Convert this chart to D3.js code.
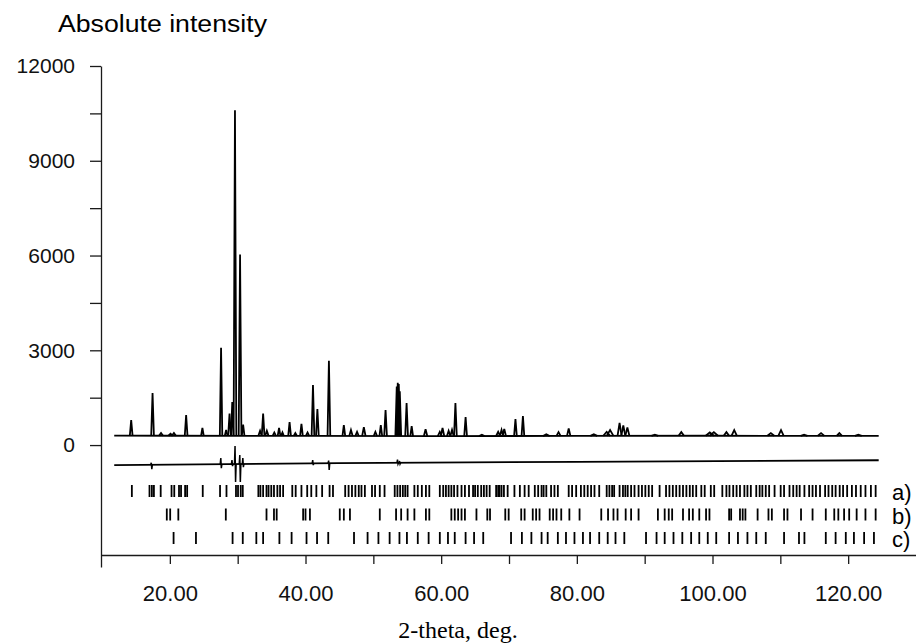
<!DOCTYPE html>
<html>
<head>
<meta charset="utf-8">
<script src="https://cdn.jsdelivr.net/npm/d3@7"></script>
<style>
  body { margin: 0; background: #fff; }
  svg { display: block; }
  .axis path, .axis line { stroke: #1a1a1a; stroke-width: 1.3; }
  .axis text { font-family: "Liberation Sans", Arial, sans-serif; fill: #111; }
</style>
</head>
<body>
<svg id="chart" width="916" height="643"></svg>
<script>
// observed pattern, background level [2theta, counts]
const obsBaseline = [[11.8, 300], [20, 295], [40, 290], [60, 285], [80, 290], [100, 295], [124.5, 290]]

// observed peaks [2theta, counts at top, half width in deg]
const obsPeaks = [
  [14.3, 790, 0.2], [17.45, 1650, 0.2], [18.7, 380, 0.3], [20.1, 360, 0.3], [20.6, 380, 0.3],
  [22.4, 950, 0.2], [24.8, 540, 0.2], [27.55, 3080, 0.18], [28.3, 480, 0.2], [28.8, 1000, 0.2],
  [29.2, 1365, 0.18], [29.6, 10600, 0.2], [30.35, 6030, 0.2], [30.8, 650, 0.2],
  [33.3, 450, 0.25], [33.75, 1000, 0.2], [34.3, 450, 0.25], [35.4, 400, 0.25], [36.1, 540, 0.2],
  [36.6, 400, 0.2], [37.65, 730, 0.2], [38.5, 380, 0.25], [39.4, 670, 0.2], [40.3, 400, 0.25],
  [41.1, 1900, 0.2], [41.75, 1140, 0.2], [43.45, 2670, 0.2], [45.65, 635, 0.2], [46.7, 475, 0.25],
  [47.6, 420, 0.25], [48.6, 570, 0.25], [50.3, 420, 0.25], [51.1, 635, 0.2], [51.8, 1110, 0.2],
  [53.45, 1850, 0.2], [53.6, 1970, 0.2], [53.75, 1930, 0.2], [53.9, 1700, 0.2], [54.9, 1330, 0.2],
  [55.65, 600, 0.2], [57.7, 500, 0.25], [59.8, 420, 0.3], [60.2, 540, 0.25], [61.1, 450, 0.25],
  [61.6, 480, 0.25], [62.1, 1330, 0.2], [63.6, 890, 0.2], [66.0, 330, 0.4], [68.4, 420, 0.3],
  [68.9, 480, 0.25], [69.3, 510, 0.25], [70.95, 825, 0.2], [72.05, 920, 0.2], [75.5, 340, 0.5],
  [77.3, 410, 0.3], [78.8, 530, 0.25], [82.5, 340, 0.5], [84.4, 420, 0.5], [84.9, 475, 0.5],
  [86.3, 700, 0.3], [86.85, 620, 0.3], [87.45, 560, 0.3], [91.5, 330, 0.5], [95.4, 410, 0.4],
  [99.6, 400, 0.6], [100.2, 410, 0.6], [102.05, 410, 0.4], [103.2, 475, 0.4], [108.6, 380, 0.5],
  [110.1, 475, 0.4], [113.5, 330, 0.5], [116.0, 380, 0.5], [118.7, 380, 0.4], [121.5, 330, 0.5]
]

// difference curve, level [2theta, counts]
const diffBaseline = [[11.8, -635], [45, -570], [80, -530], [124.5, -480]]
// difference spikes [2theta, high, low]
const diffSpikes = [
  [17.3, -560, -760], [27.55, -410, -730], [29.2, -475, -665], [29.65, -30, -1170],
  [30.35, -315, -1170], [30.8, -410, -700], [41.1, -475, -635], [43.45, -490, -790],
  [53.6, -460, -600], [53.9, -505, -600]
]

// reflection positions (2theta) for the three phases
const reflA = [
  14.4, 17.0, 17.35, 17.65, 18.65, 20.25, 20.65, 21.35, 21.65, 22.25, 22.55, 24.85, 27.4, 28.35,
  29.75, 30.05, 30.45, 30.75, 33.05, 33.35, 33.75, 34.25, 34.55, 34.95, 35.35, 35.85, 36.25, 36.7,
  38.05, 38.55, 39.4, 40.25, 40.85, 41.6, 42.45, 43.55, 44.05, 45.85, 46.35, 46.85, 47.35, 47.85,
  48.25, 48.75, 49.8, 50.25, 50.95, 51.65, 53.15, 53.55, 53.95, 54.35, 54.7, 55.05, 56.05, 56.55,
  57.15, 57.75, 58.25, 59.8, 60.3, 60.7, 61.1, 61.5, 61.9, 62.4, 63.0, 63.5, 64.1, 64.7, 65.0,
  65.4, 65.9, 66.3, 66.7, 67.15, 68.1, 68.4, 68.6, 68.9, 69.25, 69.8, 70.8, 71.6, 72.3, 72.9,
  73.8, 74.3, 74.8, 75.1, 75.5, 76.2, 76.7, 77.2, 78.8, 79.3, 79.9, 80.6, 81.1, 81.6, 82.1, 82.6,
  83.3, 84.4, 84.8, 85.2, 85.5, 86.3, 86.8, 87.15, 87.5, 88.0, 88.5, 89.1, 89.6, 90.1, 90.6, 91.1,
  92.2, 93.15, 93.65, 94.15, 94.65, 95.15, 95.65, 96.15, 96.65, 97.1, 97.6, 98.35, 98.85, 99.75,
  100.25, 101.45, 102.05, 102.5, 103.05, 103.55, 104.05, 104.7, 105.15, 105.65, 106.45, 106.95,
  107.35, 107.85, 108.35, 109.15, 110.05, 110.55, 111.35, 111.9, 112.4, 112.85, 113.55, 114.25,
  114.75, 115.25, 115.85, 116.6, 117.1, 117.65, 118.15, 118.75, 119.25, 119.85, 120.55, 121.15,
  121.85, 122.55, 123.35, 124.05
]
const reflB = [
  19.55, 20.05, 21.25, 28.25, 34.25, 35.35, 35.75, 39.65, 40.0, 40.65, 45.05, 45.65, 46.55,
  50.95, 53.35, 54.1, 55.05, 56.05, 57.75, 58.25, 61.5, 62.0, 62.5, 63.0, 63.5, 65.2, 66.8, 67.2,
  69.45, 69.95, 71.8, 72.3, 73.5, 74.0, 74.5, 76.0, 76.5, 77.0, 77.7, 78.9, 80.4, 83.6, 84.6,
  85.4, 86.0, 87.2, 88.0, 89.1, 91.95, 92.95, 93.55, 94.05, 95.65, 96.55, 97.1, 98.05, 99.05,
  99.55, 102.45, 102.75, 104.05, 104.45, 104.85, 106.65, 108.25, 108.75, 110.55, 111.05, 113.05,
  114.75, 116.7, 117.95, 118.55, 119.4, 120.15, 121.25, 122.55, 124.05
]
const reflC = [
  20.55, 23.85, 29.25, 30.75, 32.75, 33.75, 36.15, 37.95, 40.15, 41.7, 43.35, 47.15, 49.15,
  50.75, 52.4, 53.85, 54.95, 56.55, 58.15, 59.8, 61.0, 62.0, 63.6, 64.85, 66.2, 70.3, 71.9, 73.3,
  74.8, 75.7, 77.2, 78.4, 79.65, 80.9, 81.95, 83.3, 84.55, 85.7, 87.0, 90.2, 91.75, 92.95, 94.25,
  95.55, 96.85, 98.05, 99.3, 100.55, 102.45, 103.75, 105.15, 106.45, 107.85, 110.55, 112.75,
  113.55, 116.7, 118.15, 119.65, 120.85, 122.35, 123.8
]
const phaseLabels = ["a)", "b)", "c)"]
const phaseRefl = [reflA, reflB, reflC]

const yTicks = [0, 1500, 3000, 4500, 6000, 7500, 9000, 10500, 12000]
const xTicks = [20, 30, 40, 50, 60, 70, 80, 90, 100, 110, 120]

const yTitle = "Absolute intensity"
const xTitle = "2-theta, deg."

const svg = d3.select("#chart")

const x = d3.scaleLinear().domain([9.85, 130]).range([101, 916])
const y = d3.scaleLinear().domain([-3860, 12000]).range([567, 66])
const rowY = d3.scalePoint().domain(phaseLabels).range([491, 538])

const baseAt = d3.scaleLinear().domain(obsBaseline.map(d => d[0])).range(obsBaseline.map(d => d[1]))
const diffAt = d3.scaleLinear().domain(diffBaseline.map(d => d[0])).range(diffBaseline.map(d => d[1]))

const line = d3.line().x(d => x(d[0])).y(d => y(d[1]))

// axes
svg.append("g")
    .attr("class", "axis")
    .attr("transform", "translate(" + x.range()[0] + ",0)")
    .call(d3.axisLeft(y).tickValues(yTicks).tickSize(11).tickSizeOuter(0).tickPadding(15)
      .tickFormat(d => d % 3000 === 0 ? d : ""))
    .call(g => g.selectAll("text").attr("font-size", 21))

svg.append("g")
    .attr("class", "axis")
    .attr("transform", "translate(0,555)")
    .call(d3.axisBottom(x).tickValues(xTicks).tickSize(9).tickSizeOuter(0).tickPadding(21)
      .tickFormat(d => d % 20 === 0 ? d3.format(".2f")(d) : ""))
    .call(g => g.selectAll("text").attr("font-size", 22))

// observed pattern
svg.append("path")
    .datum(obsBaseline)
    .attr("d", line)
    .attr("fill", "none")
    .attr("stroke", "#000")
    .attr("stroke-width", 1.8)

svg.append("g").selectAll("path")
    .data(obsPeaks).enter().append("path")
    .attr("d", d => line([[d[0] - d[2], baseAt(d[0] - d[2])], [d[0], d[1]], [d[0] + d[2], baseAt(d[0] + d[2])]]))
    .attr("fill", "none")
    .attr("stroke", "#000")
    .attr("stroke-width", 1.8)
    .attr("stroke-linejoin", "miter")

// difference curve
svg.append("path")
    .datum(diffBaseline)
    .attr("d", line)
    .attr("fill", "none")
    .attr("stroke", "#000")
    .attr("stroke-width", 1.8)

svg.append("g").selectAll("path")
    .data(diffSpikes).enter().append("path")
    .attr("d", d => line([[d[0] - 0.12, diffAt(d[0])], [d[0] - 0.04, d[1]], [d[0] + 0.04, d[2]], [d[0] + 0.12, diffAt(d[0])]]))
    .attr("fill", "none")
    .attr("stroke", "#000")
    .attr("stroke-width", 1.5)

// reflection markers
const rows = svg.append("g").selectAll("g")
    .data(phaseLabels).enter().append("g")

rows.selectAll("line")
    .data((d, i) => phaseRefl[i].map(v => ({ pos: v, row: d })))
    .enter().append("line")
    .attr("x1", d => x(d.pos))
    .attr("x2", d => x(d.pos))
    .attr("y1", d => rowY(d.row) - 6)
    .attr("y2", d => rowY(d.row) + 6)
    .attr("stroke", "#000")
    .attr("stroke-width", 1.8)

rows.append("text")
    .text(d => d)
    .attr("x", 892)
    .attr("y", d => rowY(d) + 2)
    .attr("font-family", "Liberation Sans, Arial, sans-serif")
    .attr("font-size", 22)
    .attr("dy", "0.32em")

// titles
svg.append("text")
    .attr("x", 58)
    .attr("y", 32)
    .attr("font-family", "Liberation Sans, Arial, sans-serif")
    .attr("font-size", 23)
    .attr("textLength", 209)
    .attr("lengthAdjust", "spacingAndGlyphs")
    .text(yTitle)

svg.append("text")
    .attr("x", 458)
    .attr("y", 638)
    .attr("text-anchor", "middle")
    .attr("font-family", "Liberation Serif, Times New Roman, serif")
    .attr("font-size", 24)
    .text(xTitle)
</script>
</body>
</html>
